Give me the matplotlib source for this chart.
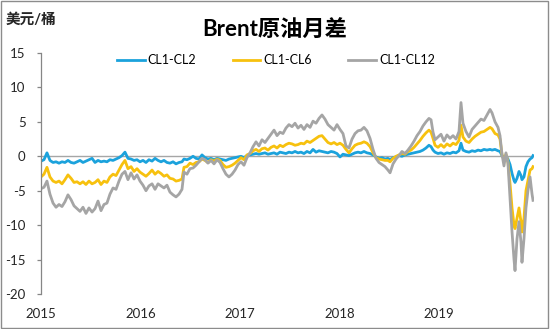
import matplotlib
matplotlib.use("Agg")
import matplotlib.pyplot as plt
from matplotlib.patches import Rectangle

plt.rcParams['font.family'] = ['Lato', 'Noto Sans CJK SC', 'DejaVu Sans']

# time (fractional years)
t = [2015.000, 2015.030, 2015.060, 2015.090, 2015.121, 2015.151, 2015.181, 2015.211, 2015.241, 2015.271,
     2015.302, 2015.332, 2015.362, 2015.392, 2015.422, 2015.452, 2015.482, 2015.513, 2015.543, 2015.573,
     2015.603, 2015.633, 2015.663, 2015.693, 2015.724, 2015.754, 2015.784, 2015.814, 2015.844, 2015.874,
     2015.905, 2015.935, 2015.965, 2015.995, 2016.025, 2016.055, 2016.085, 2016.116, 2016.146, 2016.176,
     2016.206, 2016.236, 2016.266, 2016.296, 2016.327, 2016.357, 2016.387, 2016.417, 2016.437, 2016.467,
     2016.497, 2016.528, 2016.558, 2016.588, 2016.618, 2016.648, 2016.678, 2016.709, 2016.739, 2016.769,
     2016.799, 2016.829, 2016.859, 2016.889, 2016.920, 2016.950, 2016.980, 2017.010, 2017.040, 2017.070,
     2017.101, 2017.131, 2017.161, 2017.191, 2017.221, 2017.251, 2017.281, 2017.312, 2017.342, 2017.372,
     2017.402, 2017.432, 2017.462, 2017.492, 2017.523, 2017.553, 2017.583, 2017.613, 2017.643, 2017.673,
     2017.704, 2017.734, 2017.764, 2017.794, 2017.824, 2017.854, 2017.884, 2017.915, 2017.945, 2017.975,
     2018.005, 2018.035, 2018.065, 2018.095, 2018.126, 2018.156, 2018.186, 2018.216, 2018.246, 2018.276,
     2018.307, 2018.337, 2018.367, 2018.397, 2018.427, 2018.457, 2018.487, 2018.508, 2018.538, 2018.568,
     2018.598, 2018.628, 2018.658, 2018.688, 2018.719, 2018.749, 2018.779, 2018.809, 2018.839, 2018.869,
     2018.899, 2018.920, 2018.940, 2018.960, 2018.990, 2019.020, 2019.050, 2019.080, 2019.111, 2019.141,
     2019.171, 2019.201, 2019.221, 2019.241, 2019.271, 2019.302, 2019.332, 2019.362, 2019.392, 2019.422,
     2019.452, 2019.482, 2019.513, 2019.533, 2019.563, 2019.593, 2019.613, 2019.633, 2019.653, 2019.673,
     2019.693, 2019.714, 2019.734, 2019.754, 2019.764, 2019.784, 2019.804, 2019.824, 2019.834, 2019.854,
     2019.874, 2019.894, 2019.915, 2019.935, 2019.945]

cl1_cl2 = [-0.7, -0.5, 0.5, -0.6, -0.9, -0.8, -1.0, -0.8, -0.9, -0.6,
           -0.9, -1.0, -0.8, -0.6, -0.9, -0.7, -0.5, -0.3, -0.9, -0.6,
           -0.8, -0.7, -0.8, -0.5, -0.6, -0.4, -0.2, 0.1, 0.6, -0.3,
           -0.4, -0.6, -0.5, -0.8, -0.6, -0.9, -0.5, -0.7, -0.3, -0.6,
           -0.8, -0.6, -0.9, -1.0, -0.8, -1.1, -0.9, -0.8, -0.4, -0.5,
           -0.3, 0.0, -0.3, -0.4, 0.2, -0.2, -0.4, -0.3, -0.5, -0.3,
           -0.4, -0.5, -0.6, -0.4, -0.3, -0.2, -0.1, 0.0, -0.2, 0.1,
           0.2, 0.3, 0.4, 0.3, 0.4, 0.5, 0.3, 0.4, 0.5, 0.3,
           0.6, 0.5, 0.4, 0.6, 0.5, 0.7, 0.5, 0.6, 0.4, 0.7,
           0.5, 1.0, 0.6, 0.8, 0.7, 0.6, 0.5, 0.7, 0.6, 0.4,
           -0.1, 0.3, 0.2, 0.1, 0.3, 0.5, 0.6, 0.5, 0.7, 0.5,
           0.4, 0.2, -0.1, -0.3, -0.2, -0.4, -0.3, -0.5, -0.2, -0.1,
           0.1, 0.0, 0.2, 0.3, 0.4, 0.5, 0.6, 0.7, 0.9, 1.2,
           1.6, 1.4, 0.9, 0.6, 0.4, 0.5, 0.3, 0.5, 0.4, 0.6,
           0.5, 0.8, 1.9, 0.9, 0.7, 0.6, 0.8, 0.7, 0.9, 0.8,
           1.0, 0.9, 1.0, 0.9, 1.0, 0.8, 0.7, 0.1, -0.1, 0.0,
           -0.4, -1.2, -2.5, -3.5, -3.8, -3.2, -2.2, -2.8, -3.4, -3.0,
           -1.5, -0.8, -0.4, -0.2, 0.1]

cl1_cl6 = [-3.0, -2.6, -1.6, -3.0, -3.6, -3.8, -3.6, -4.0, -3.4, -2.7,
           -3.2, -3.8, -3.7, -4.0, -3.7, -4.1, -3.6, -4.0, -3.8, -3.4,
           -4.1, -3.6, -3.8, -3.0, -2.6, -2.8, -2.0, -1.2, -0.6, -1.8,
           -1.5, -2.2, -1.8, -2.3, -2.6, -2.9, -2.5, -2.0, -2.6, -2.2,
           -2.5, -2.9, -2.7, -3.2, -3.3, -3.6, -3.5, -3.3, -1.6, -1.5,
           -1.0, -1.2, -0.9, -0.8, -0.4, -0.6, -0.9, -0.5, -0.7, -0.4,
           -0.6, -1.2, -1.6, -1.5, -1.3, -1.0, -0.6, -0.2, -0.5, 0.2,
           0.4, 0.8, 1.0, 0.7, 1.1, 1.2, 0.9, 1.3, 1.5, 1.2,
           1.6, 1.4, 1.7, 1.9, 1.8, 1.6, 1.7, 1.9, 1.8, 2.2,
           2.0, 2.3, 2.6, 2.9, 3.0, 2.5, 2.0, 1.8, 2.0, 1.7,
           1.9, 1.6, 1.0, 0.5, 1.1, 1.6, 1.8, 1.9, 2.1, 1.9,
           1.4, 0.5, -0.2, -0.4, -0.5, -0.6, -0.6, -0.8, -0.3, 0.0,
           0.2, 0.4, 0.3, 0.7, 0.9, 1.3, 1.8, 2.3, 2.9, 3.4,
           3.8, 3.5, 2.6, 1.6, 1.3, 1.7, 1.3, 1.8, 1.5, 1.9,
           1.7, 2.3, 4.5, 2.8, 2.2, 2.0, 2.5, 2.9, 3.2, 3.5,
           3.6, 3.9, 4.2, 4.0, 3.3, 3.1, 2.5, 0.2, -0.5, 0.3,
           -0.8, -4.0, -7.5, -10.0, -10.5, -9.0, -7.5, -9.5, -11.0, -9.0,
           -5.0, -3.5, -2.0, -1.8, -1.5]

cl1_cl12 = [-4.7, -4.5, -3.6, -5.5, -6.8, -7.4, -7.0, -7.3, -6.6, -5.6,
            -6.3, -7.2, -7.6, -8.0, -7.4, -8.3, -7.5, -8.1, -7.6, -6.5,
            -7.9, -7.0, -6.8, -5.5, -4.6, -4.8, -3.6, -2.6, -2.2, -3.4,
            -2.4, -3.3, -2.7, -3.6, -4.2, -5.0, -4.3, -4.0, -4.8, -4.0,
            -4.3, -4.6, -4.2, -5.2, -5.6, -5.9, -5.5, -4.8, -2.3, -2.6,
            -1.8, -1.7, -1.3, -0.8, -0.3, -0.5, -1.0, -0.6, -1.1, -0.5,
            -0.9, -1.8, -2.6, -3.0, -2.6, -2.0, -1.2, -0.8, -1.3, -0.2,
            0.5, 1.4, 2.1, 1.5, 2.4, 2.0, 2.6, 3.2, 3.8, 3.0,
            3.5, 3.3, 4.1, 4.6, 4.3, 4.8, 4.1, 4.5, 3.9, 4.6,
            4.2, 5.1, 4.8, 5.5, 6.0, 5.4, 4.6, 4.2, 3.8, 4.6,
            3.9, 3.3, 1.5, 1.2, 2.5, 3.3, 3.7, 3.8, 4.2, 3.7,
            2.6, 1.0, -0.3, -0.9, -1.2, -1.5, -2.0, -2.4, -1.1, -0.4,
            0.1, 0.7, 0.4, 0.9, 1.5, 2.2, 3.0, 3.6, 4.4, 5.0,
            5.5, 5.3, 3.5, 2.4, 2.8, 3.2, 2.2, 3.1, 2.6, 3.0,
            2.5, 3.6, 7.8, 4.8, 3.6, 2.8, 3.9, 4.4, 4.9, 5.4,
            5.2, 6.0, 6.8, 6.3, 5.0, 4.2, 3.0, 0.3, -1.4, 0.5,
            -1.0, -6.0, -11.0, -15.0, -16.6, -12.0, -9.5, -12.5, -15.4, -12.0,
            -7.5, -5.0, -3.0, -5.5, -6.4]

series = [("CL1-CL2", cl1_cl2, "#1BA2DC"),
          ("CL1-CL6", cl1_cl6, "#F7C10E"),
          ("CL1-CL12", cl1_cl12, "#A5A5A5")]

year_ticks = [2015, 2016, 2017, 2018, 2019]
y_ticks = [-20, -15, -10, -5, 0, 5, 10, 15]

fig = plt.figure(figsize=(5.5, 3.29), dpi=100)
ax = fig.add_axes([41/550, 35/329, 493/550, 241/329])

ax.axhline(0, color="#A6A6A6", lw=1.0, zorder=1)
for name, vals, col in series:
    ax.plot(t, vals, color=col, lw=2.0, label=name, zorder=2, solid_joinstyle='round')

ax.set_xlim(2015.0, 2015 + 493/99.5)
ax.set_ylim(-20, 15)
ax.set_yticks(y_ticks)
ax.set_yticklabels([str(v) for v in y_ticks])
ax.set_xticks(year_ticks)
ax.set_xticklabels([str(v) for v in year_ticks])

for s in ["top", "right", "bottom"]:
    ax.spines[s].set_visible(False)
ax.spines["left"].set_color("#868686")
ax.spines["left"].set_linewidth(0.9)
ax.tick_params(axis="y", direction="out", length=3, width=0.9, color="#868686",
               labelsize=9.5, labelcolor="#262626", pad=8)
ax.tick_params(axis="x", length=0, labelsize=9.5, labelcolor="#262626", pad=10)

leg = fig.legend(*ax.get_legend_handles_labels(), loc="upper center",
                 bbox_to_anchor=(276/550, 1 - 54/329), bbox_transform=fig.transFigure,
                 ncol=3, frameon=False, fontsize=9, handlelength=2.2, handletextpad=0.25,
                 columnspacing=2.9, borderaxespad=0.0, borderpad=0.0)

fig.text(275/550, 1 - 30/329, "Brent原油月差", ha="center", va="center",
         fontsize=16, fontweight="bold", color="black")
fig.text(6/550, 1 - 20/329, "美元/桶", ha="left", va="center",
         fontsize=10.5, fontweight="bold", color="#262626")

fig.patches.append(Rectangle((0.001, 0.002), 0.996, 0.995, transform=fig.transFigure,
                             fill=False, edgecolor="#8C8C8C", lw=1.0))

fig.savefig("out.png", dpi=100)
